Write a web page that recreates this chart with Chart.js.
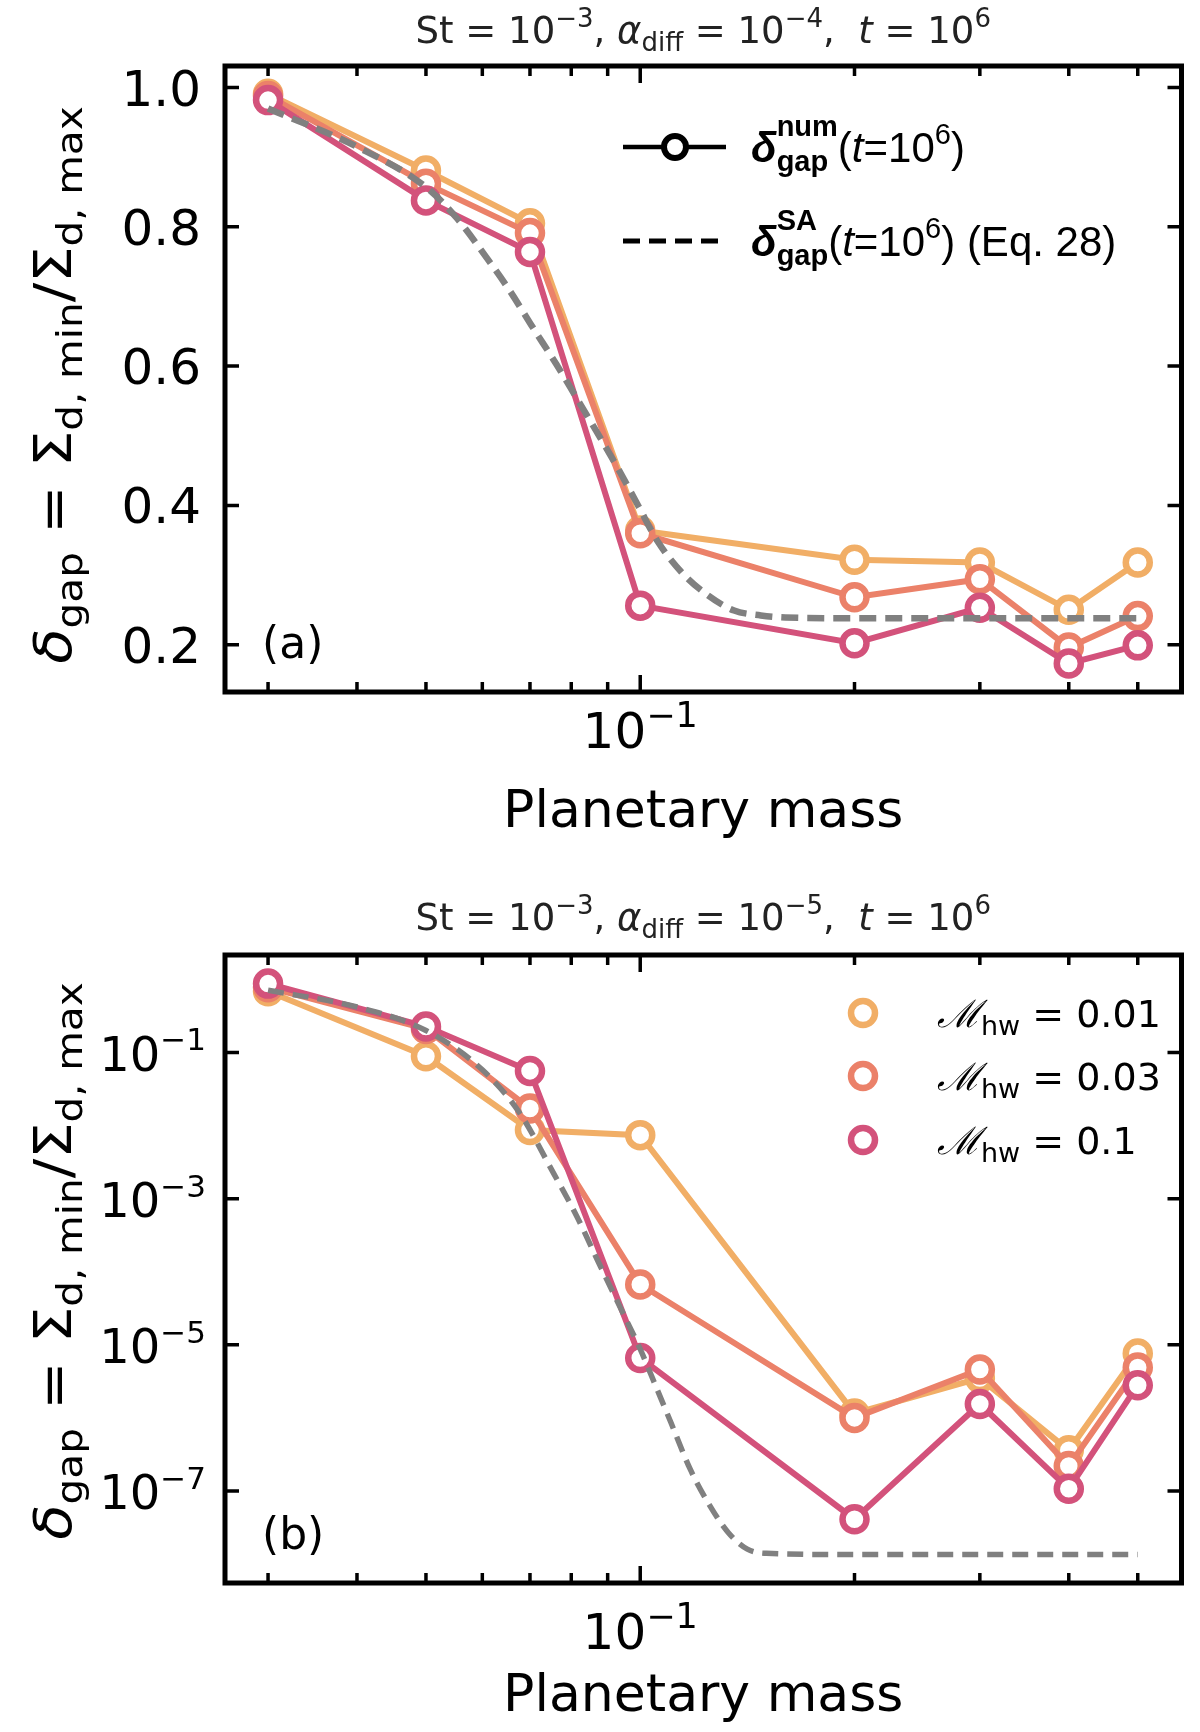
<!DOCTYPE html>
<html>
<head>
<meta charset="utf-8">
<script src="https://cdn.jsdelivr.net/npm/chart.js@4.4.1/dist/chart.umd.min.js"></script>
<style>
html, body { margin: 0; padding: 0; background: #fff; }
#wrap { position: relative; width: 1200px; height: 1732px; }
canvas { position: absolute; left: 0; }
</style>
</head>
<body>
<div id="wrap">
  <canvas id="panelA" width="1200" height="866" style="top:0px"></canvas>
  <canvas id="panelB" width="1200" height="866" style="top:866px"></canvas>
</div>
<script>
// planetary masses of the simulations (x)
var masses = [0.03, 0.05, 0.07, 0.1, 0.2, 0.3, 0.4, 0.5];

// panel (a): alpha_diff = 1e-4
var gapA_hw001 = [0.991, 0.881, 0.805, 0.364, 0.322, 0.318, 0.250, 0.318];
var gapA_hw003 = [0.988, 0.862, 0.791, 0.360, 0.268, 0.294, 0.196, 0.241];
var gapA_hw01 = [0.982, 0.838, 0.764, 0.256, 0.202, 0.253, 0.173, 0.199];

// semi-analytic curve (Eq. 28)
var saMassA = [0.03, 0.04, 0.05, 0.0553, 0.0609, 0.0656, 0.0707, 0.0762, 0.0812, 0.0866, 0.0933,
    0.0994, 0.106, 0.1143, 0.1244, 0.1355, 0.1477, 0.16, 0.2, 0.3, 0.4, 0.5];
var saGapA = [0.970, 0.915, 0.857, 0.812, 0.755, 0.708, 0.655, 0.603, 0.556, 0.508, 0.451,
    0.399, 0.347, 0.304, 0.271, 0.249, 0.242, 0.239, 0.238, 0.238, 0.238, 0.238];

// panel (b): alpha_diff = 1e-5
var gapB_hw001 = [0.69, 0.089, 0.0087, 0.0074, 1.15e-6, 3.5e-6, 3.6e-7, 7.6e-6];
var gapB_hw003 = [0.78, 0.21, 0.0171, 6.7e-5, 1.0e-6, 4.6e-6, 2.2e-7, 4.9e-6];
var gapB_hw01 = [0.877, 0.227, 0.056, 6.6e-6, 4.1e-8, 1.55e-6, 1.07e-7, 2.8e-6];

var saMassB = [0.03, 0.04, 0.05, 0.06, 0.0676, 0.0757, 0.0814, 0.0873, 0.0938, 0.1, 0.1051,
    0.1104, 0.1175, 0.125, 0.1329, 0.1414, 0.1504, 0.2, 0.3, 0.4, 0.5];
var saGapB = [0.71, 0.42, 0.20, 0.058, 0.0152, 2.15e-3, 5.8e-4, 1.37e-4, 3.2e-5, 8.7e-6, 2.75e-6,
    8.7e-7, 2.0e-7, 6.5e-8, 2.7e-8, 1.6e-8, 1.4e-8, 1.35e-8, 1.35e-8, 1.35e-8, 1.35e-8];

// ticks
var xMinorTicks = [0.03, 0.04, 0.05, 0.06, 0.07, 0.08, 0.09, 0.2, 0.3, 0.4, 0.5];
var xMajorTicks = [0.1];
var yTicksA = [0.2, 0.4, 0.6, 0.8, 1.0];
var yTickLabelsA = ['0.2', '0.4', '0.6', '0.8', '1.0'];
var yTicksB = [1e-7, 1e-5, 1e-3, 1e-1];
var yTickExpB = ['−7', '−5', '−3', '−1'];

var hwLabels = ['0.01', '0.03', '0.1'];
var hwColors = ['#F1AE66', '#EB8169', '#D3527B'];
var DASH_GREY = '#808080';
var SANS = '"DejaVu Sans"';

// --- small helper for text with sub/superscripts ---
function partFont(p, size, family) {
    var s = (p.k === 'sup' || p.k === 'sub') ? size * (p.sc || 0.7) : size;
    return (p.it ? 'italic ' : '') + (p.b ? 'bold ' : '') + Math.round(s) + 'px ' + (p.fam || family);
}
function drawRich(ctx, parts, x, y, size, family, align, color) {
    var w = 0, items = [];
    parts.forEach(function (p) {
        ctx.font = partFont(p, size, family);
        var pw = ctx.measureText(p.t).width;
        var uw = p.up ? ctx.measureText(p.up).width : 0;
        items.push({ p: p, x: w, font: ctx.font });
        w += Math.max(pw, uw);
    });
    var x0 = align === 'center' ? x - w / 2 : (align === 'right' ? x - w : x);
    ctx.fillStyle = color || '#000';
    ctx.textAlign = 'left';
    ctx.textBaseline = 'alphabetic';
    items.forEach(function (it) {
        var p = it.p;
        ctx.font = it.font;
        var dy = p.k === 'sup' ? -size * 0.42 : (p.k === 'sub' ? size * 0.22 : 0);
        ctx.fillText(p.t, x0 + it.x, y + dy);
        if (p.up) ctx.fillText(p.up, x0 + it.x, y - size * 0.62);
    });
    return w;
}

function titleParts(alphaExp) {
    return [{ t: 'St = 10' }, { t: '−3', k: 'sup' }, { t: ', ' }, { t: 'α', it: true },
        { t: 'diff', k: 'sub' }, { t: ' = 10' }, { t: alphaExp, k: 'sup' }, { t: ',  ' },
        { t: 't', it: true }, { t: ' = 10' }, { t: '6', k: 'sup' }];
}
var yLabelParts = [{ t: 'δ', it: true }, { t: 'gap', k: 'sub' }, { t: ' = Σ' }, { t: 'd, min', k: 'sub' },
    { t: '/Σ' }, { t: 'd, max', k: 'sub' }];

function series(xs, ys) {
    return xs.map(function (m, i) { return { x: m, y: ys[i] }; });
}

function hwDataset(i, ys) {
    return {
        label: 'Mhw = ' + hwLabels[i],
        data: series(masses, ys),
        borderColor: hwColors[i],
        backgroundColor: '#fff',
        borderWidth: 6,
        pointRadius: 12,
        pointBorderWidth: 6.5,
        pointBackgroundColor: '#fff',
        pointBorderColor: hwColors[i],
        order: 3 - i,
        tension: 0
    };
}

function circle(ctx, x, y, r, lw, color) {
    ctx.beginPath();
    ctx.arc(x, y, r, 0, Math.PI * 2);
    ctx.fillStyle = '#fff';
    ctx.fill();
    ctx.lineWidth = lw;
    ctx.strokeStyle = color;
    ctx.stroke();
}

// draws frame, inward ticks, labels and legend on top of a panel
function decorPlugin(cfg) {
    return {
        id: 'decor',
        afterDraw: function (chart) {
            var ctx = chart.ctx, a = chart.chartArea;
            var xs = chart.scales.x, ys = chart.scales.y;
            ctx.save();
            ctx.strokeStyle = '#000';
            ctx.lineWidth = 3.5;
            ctx.beginPath();
            xMinorTicks.forEach(function (v) {
                var px = xs.getPixelForValue(v);
                ctx.moveTo(px, a.bottom); ctx.lineTo(px, a.bottom - 10);
                ctx.moveTo(px, a.top); ctx.lineTo(px, a.top + 10);
            });
            xMajorTicks.forEach(function (v) {
                var px = xs.getPixelForValue(v);
                ctx.moveTo(px, a.bottom); ctx.lineTo(px, a.bottom - 17);
                ctx.moveTo(px, a.top); ctx.lineTo(px, a.top + 17);
            });
            cfg.yTicks.forEach(function (v) {
                var py = ys.getPixelForValue(v);
                ctx.moveTo(a.left, py); ctx.lineTo(a.left + 14, py);
                ctx.moveTo(a.right, py); ctx.lineTo(a.right - 14, py);
            });
            ctx.stroke();
            ctx.lineWidth = 5;
            ctx.strokeRect(a.left, a.top, a.right - a.left, a.bottom - a.top);

            // y tick labels
            cfg.yTicks.forEach(function (v, i) {
                var py = ys.getPixelForValue(v);
                drawRich(ctx, cfg.yTickParts(i), a.left - cfg.yTickPad, py + 18, cfg.yTickSize, SANS, 'right', '#000');
            });
            // x tick label
            xMajorTicks.forEach(function (v) {
                drawRich(ctx, [{ t: '10' }, { t: '−1', k: 'sup' }], xs.getPixelForValue(v), cfg.xTickY, 50, SANS, 'center', '#000');
            });
            // axis labels
            drawRich(ctx, [{ t: 'Planetary mass' }], (a.left + a.right) / 2, cfg.xLabelY, 52, SANS, 'center', '#000');
            ctx.save();
            ctx.translate(52, cfg.yLabelCY);
            ctx.rotate(-Math.PI / 2);
            ctx.scale(1.13, 1);
            drawRich(ctx, yLabelParts, 0, 19, 51, SANS, 'center', '#000');
            ctx.restore();
            // title and panel letter
            drawRich(ctx, titleParts(cfg.alphaExp), (a.left + a.right) / 2, cfg.titleY, 37, SANS, 'center', '#222');
            drawRich(ctx, [{ t: cfg.letter }], 262, a.bottom - 34, 44, SANS, 'left', '#000');

            cfg.legend(ctx);
            ctx.restore();
        }
    };
}

function legendA(ctx) {
    var fam = '"Liberation Sans"';
    // numerical result
    ctx.strokeStyle = '#000';
    ctx.lineWidth = 4.5;
    ctx.setLineDash([]);
    ctx.beginPath(); ctx.moveTo(623, 147); ctx.lineTo(726, 147); ctx.stroke();
    circle(ctx, 675, 147, 11, 6, '#000');
    drawRich(ctx, [{ t: 'δ', it: true, b: true }, { t: 'gap', k: 'sub', b: true, up: 'num' },
        { t: '(' }, { t: 't', it: true }, { t: '=10' }, { t: '6', k: 'sup' }, { t: ')' }],
        751, 162, 42, fam, 'left', '#000');
    // semi-analytic
    ctx.lineWidth = 5;
    ctx.setLineDash([17, 9]);
    ctx.beginPath(); ctx.moveTo(623, 241); ctx.lineTo(718, 241); ctx.stroke();
    ctx.setLineDash([]);
    drawRich(ctx, [{ t: 'δ', it: true, b: true }, { t: 'gap', k: 'sub', b: true, up: 'SA' },
        { t: '(' }, { t: 't', it: true }, { t: '=10' }, { t: '6', k: 'sup' }, { t: ') (Eq. 28)' }],
        751, 256, 42, fam, 'left', '#000');
}

function legendB(ctx) {
    var rows = [147, 210, 274];
    hwLabels.forEach(function (lab, i) {
        circle(ctx, 863, rows[i], 12, 6.5, hwColors[i]);
        drawRich(ctx, [{ t: 'ℳ', it: true, fam: '"DejaVu Serif"' }, { t: 'hw', k: 'sub' }, { t: ' = ' + lab }], 937, rows[i] + 14, 38, SANS, 'left', '#000');
    });
}

function makePanel(id, opt) {
    var datasets = [
        hwDataset(0, opt.hw[0]),
        hwDataset(1, opt.hw[1]),
        hwDataset(2, opt.hw[2]),
        {
            label: 'SA',
            data: series(opt.saMass, opt.saGap),
            borderColor: DASH_GREY,
            borderWidth: opt.dashWidth,
            borderDash: opt.dash,
            pointRadius: 0,
            cubicInterpolationMode: 'monotone',
            order: 0
        }
    ];
    return new Chart(document.getElementById(id), {
        type: 'line',
        data: { datasets: datasets },
        options: {
            responsive: false,
            devicePixelRatio: 1,
            animation: false,
            events: [],
            layout: { padding: { left: 0, right: 7, top: opt.top, bottom: 0 } },
            plugins: { legend: { display: false }, tooltip: { enabled: false }, title: { display: false } },
            scales: {
                x: {
                    type: 'logarithmic',
                    min: 0.0261, max: 0.576, bounds: 'data',
                    grid: { display: false }, border: { display: false },
                    ticks: { display: false },
                    afterFit: function (s) { s.height = opt.xAxisH; }
                },
                y: {
                    type: opt.yType,
                    min: opt.yMin, max: opt.yMax, bounds: 'data',
                    grid: { display: false }, border: { display: false },
                    ticks: { display: false },
                    afterFit: function (s) { s.width = 225; }
                }
            }
        },
        plugins: [decorPlugin(opt.decor)]
    });
}

makePanel('panelA', {
    hw: [gapA_hw001, gapA_hw003, gapA_hw01],
    saMass: saMassA, saGap: saGapA,
    dashWidth: 6.5, dash: [17, 9],
    top: 66, xAxisH: 174,
    yType: 'linear', yMin: 0.132, yMax: 1.031,
    decor: {
        yTicks: yTicksA, yTickSize: 50, yTickPad: 24,
        yTickParts: function (i) { return [{ t: yTickLabelsA[i] }]; },
        xTickY: 748, xLabelY: 827, yLabelCY: 385, titleY: 43,
        alphaExp: '−4', letter: '(a)', legend: legendA
    }
});

makePanel('panelB', {
    hw: [gapB_hw001, gapB_hw003, gapB_hw01],
    saMass: saMassB, saGap: saGapB,
    dashWidth: 5.5, dash: [16, 9],
    top: 89, xAxisH: 149,
    yType: 'logarithmic', yMin: 5.5e-9, yMax: 2.16,
    decor: {
        yTicks: yTicksB, yTickSize: 48, yTickPad: 19,
        yTickParts: function (i) { return [{ t: '10' }, { t: yTickExpB[i], k: 'sup', sc: 0.64 }]; },
        xTickY: 783, xLabelY: 845, yLabelCY: 395, titleY: 64,
        alphaExp: '−5', letter: '(b)', legend: legendB
    }
});
</script>
</body>
</html>
